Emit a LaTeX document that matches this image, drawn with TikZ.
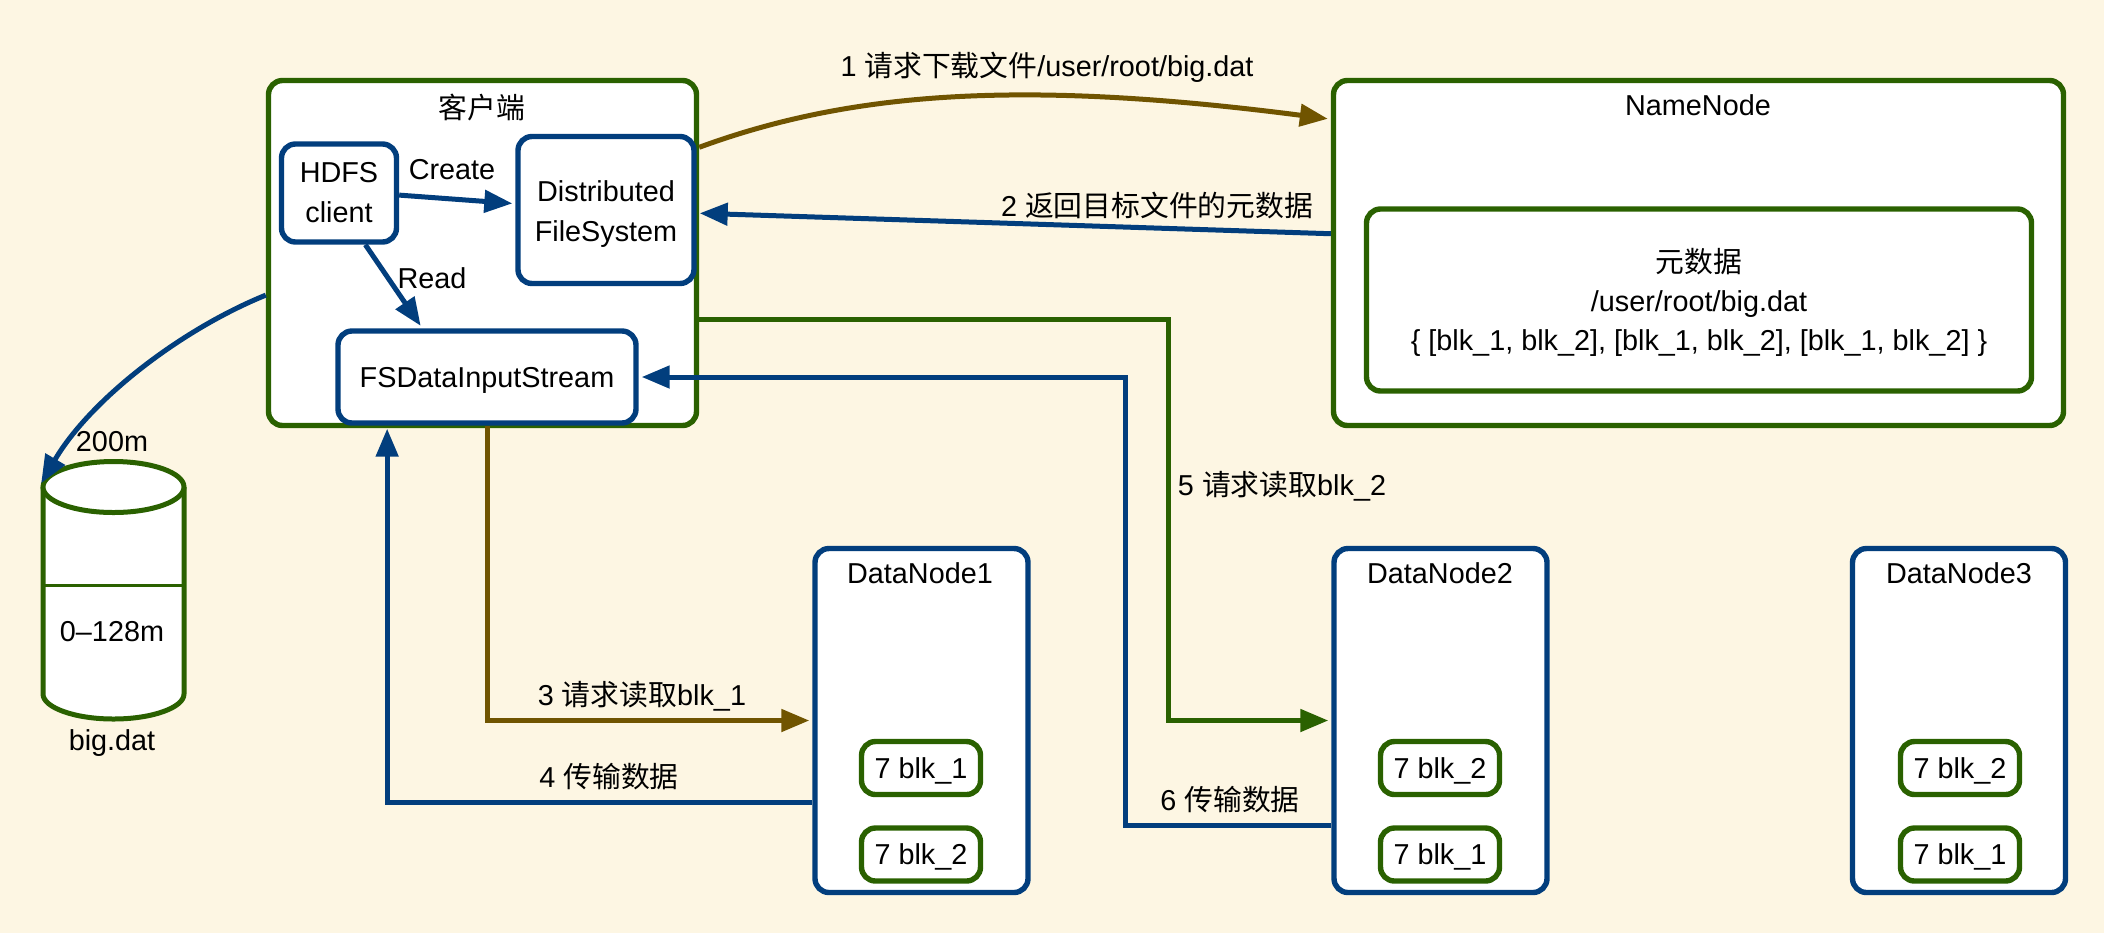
\documentclass[tikz,border=0pt]{standalone}
\usepackage{fontspec}
\setmainfont{Liberation Sans}
\newfontfamily\cjk{Noto Sans CJK SC}
\usetikzlibrary{shapes.geometric, arrows.meta}
\definecolor{paper}{HTML}{FDF6E3}
\definecolor{leaf}{HTML}{2A6100}
\definecolor{navy}{HTML}{023E7D}
\definecolor{umber}{HTML}{705400}
\newcommand{\pad}{\rule{0pt}{14pt}}

\begin{document}
\begin{tikzpicture}[x=0.5pt, y=-0.5pt, font=\fontsize{14.4}{19.5}\selectfont,
        box/.style = {draw, fill=white, line width=2.7pt, rounded corners=7pt, align=center, inner sep=0pt},
        outer/.style = {box, draw=leaf},
        inner/.style = {box, draw=navy, font=\fontsize{14.4}{20}\selectfont},
        lowered/.style = {text height=10pt, text depth=0pt},
        blk/.style = {box, lowered, draw=leaf, minimum width=59.5pt, minimum height=26.5pt},
        datanode/.style = {box, draw=navy, minimum width=106.5pt, minimum height=172pt},
        label/.style = {inner sep=0pt},
        link/.style = {line width=2.5pt, shorten >=1.5pt, -{Triangle[length=14pt, width=11pt]}}]
        \fill[paper] (0, 0) rectangle (2104, 933);
        \useasboundingbox (0, 0) rectangle (2104, 933);

        \node[outer, minimum width=214pt, minimum height=172.5pt] at (482.5, 253) (client) {};
        \node[label] at (482, 108) (clienttitle) {\cjk 客户端};
        \node[inner, minimum width=57.5pt, minimum height=49pt] at (339, 193) (hdfs) {HDFS\\client};
        \node[inner, minimum width=88pt, minimum height=73.5pt] at (606, 210) (dfs) {\pad Distributed\\FileSystem};
        \node[inner, lowered, minimum width=149pt, minimum height=46pt] at (487, 377) (fsin) {FSDataInputStream};

        \node[outer, minimum width=365pt, minimum height=172.5pt] at (1698.5, 253) (name) {};
        \node[label] at (1698, 105) (nametitle) {NameNode};
        \node[outer, minimum width=332.5pt, minimum height=91pt] at (1699, 300) (meta) {\pad{\cjk 元数据}\\/user/root/big.dat\\\{ [blk\_1, blk\_2], [blk\_1, blk\_2], [blk\_1, blk\_2] \}};

        \node[datanode] at (921.5, 720.5) (dn1) {};
        \node[datanode] at (1440.5, 720.5) (dn2) {};
        \node[datanode] at (1959, 720.5) (dn3) {};
        \node[label] at (920, 573) (dn1title) {DataNode1};
        \node[label] at (1440, 573) (dn2title) {DataNode2};
        \node[label] at (1959, 573) (dn3title) {DataNode3};

        \node[blk] at (921, 768) (dn1a) {7 blk\_1};
        \node[blk] at (921, 854.5) (dn1b) {7 blk\_2};
        \node[blk] at (1440, 768) (dn2a) {7 blk\_2};
        \node[blk] at (1440, 854.5) (dn2b) {7 blk\_1};
        \node[blk] at (1960, 768) (dn3a) {7 blk\_2};
        \node[blk] at (1960, 854.5) (dn3b) {7 blk\_1};

        \draw[leaf, fill=white, line width=2.5pt] (43, 487) -- (43, 694) .. controls (43, 707.5) and (74.5, 719) .. (113.5, 719) .. controls (152.5, 719) and (184, 707.5) .. (184, 694) -- (184, 487);
        \node[ellipse, draw=leaf, fill=white, line width=2.5pt, minimum width=70.5pt, minimum height=25.5pt, inner sep=0pt] at (113.5, 487) (bigtop) {};
        \draw[leaf, line width=1.5pt] (43, 585) -- (184, 585);
        \node[label] at (112, 632) (part) {0–128m};
        \node[label] at (112, 743) (bigname) {big.dat};
        \node[label] at (112, 442) (bigsize) {200m};

        \coordinate (bend5) at (1168, 720.5);
        \coordinate (bend6) at (1125, 377);

        \draw[link, navy] (hdfs.-2) -- (dfs.176);
        \draw[link, navy] (hdfs.-63) -- (fsin.143.5);
        \draw[link, navy, shorten >=0pt] (client.191.7) .. controls (180, 330) and (90, 400) .. (bigtop.177);
        \draw[link, umber] (client.26) .. controls (850, 92) and (1020, 79) .. (name.160.7);
        \draw[link, navy] (name.177.6) -- (dfs.-2);
        \draw[link, umber] (fsin.south) |- (dn1.west);
        \draw[link, navy] (dn1.217.3) -| (fsin.206);
        \draw[link, leaf] (client.-17.6) -| (bend5) -- (dn2.west);
        \draw[link, navy] (dn2.224.2) -| (bend6) -- (fsin.east);

        \node[label] at (452, 170) (create) {Create};
        \node[label] at (432, 278) (read) {Read};
        \node[label] at (1047, 67) (step1) {1 {\cjk 请求下载文件}/user/root/big.dat};
        \node[label] at (1157, 205) (step2) {2 {\cjk 返回目标文件的元数据}};
        \node[label] at (642, 696) (step3) {3 {\cjk 请求读取}blk\_1};
        \node[label] at (609, 777) (step4) {4 {\cjk 传输数据}};
        \node[label] at (1282, 486) (step5) {5 {\cjk 请求读取}blk\_2};
        \node[label] at (1230, 800) (step6) {6 {\cjk 传输数据}};
\end{tikzpicture}
\end{document}
